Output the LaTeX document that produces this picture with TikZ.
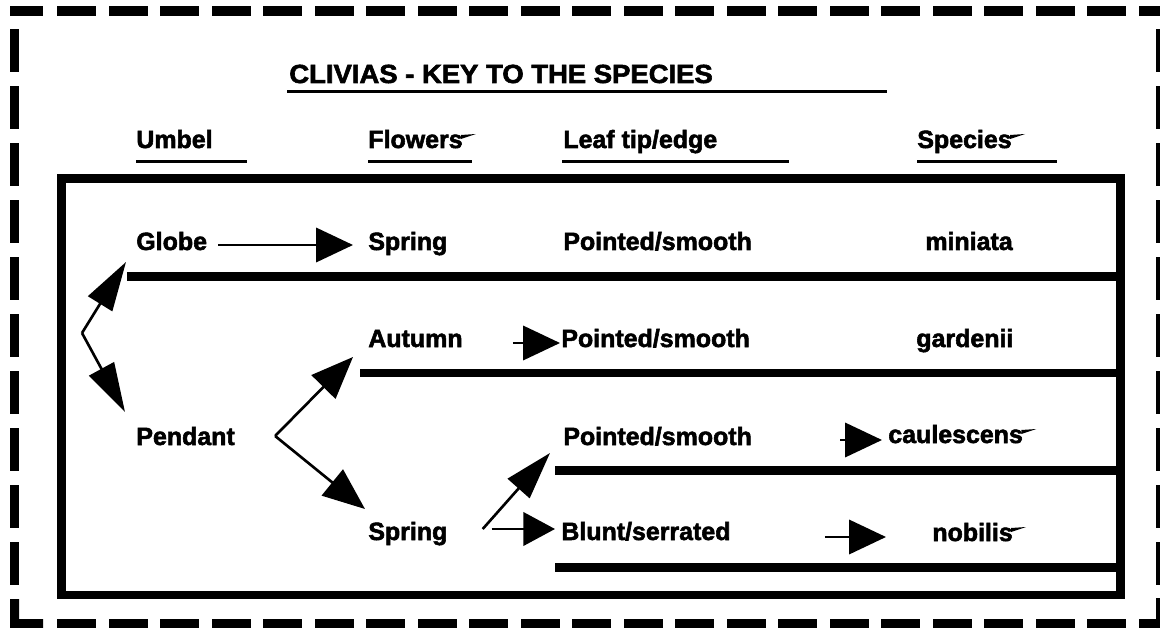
\documentclass[tikz,border=0pt]{standalone}
\usepackage{fontspec}
\setmainfont{Liberation Sans}[BoldFeatures={FakeBold=2.2}]
\usetikzlibrary{arrows.meta,calc}
\newcommand\stubmark[1]{\fill ($(#1.base east)+(-2,-13)$) -- ++(15,-1) -- ++(-15,5) -- cycle;}
\begin{document}
\begin{tikzpicture}[x=0.02cm,y=-0.02cm,
  every node/.style={font=\fontsize{14.2}{17}\selectfont\bfseries,inner sep=0pt,anchor=base west},
  arr/.style={-{Triangle[length=21pt,width=19.5pt]},line width=1.5pt},
  longarr/.style={-{Triangle[length=28pt,width=16pt]},line width=1.5pt},
  midarr/.style={-{Triangle[length=24pt,width=19pt]},line width=1.5pt},
  rowrule/.style={line width=5.1pt},
  headrule/.style={line width=2pt}]
\useasboundingbox (0,0) rectangle (1160,628);
% dashed frame
\foreach \k in {0,...,21} {
  \fill (57+51.5*\k,6) rectangle ++(39,10);
  \fill (57+51.5*\k,619) rectangle ++(39,9);}
\foreach \k in {0,...,9} {
  \fill (10,29+57*\k) rectangle ++(9,43);
  \fill (1156,29+57*\k) rectangle ++(9,43);}
\fill (10,6) rectangle (43,16);
\fill (10,599) -- (19,599) -- (19,619) -- (43,619) -- (43,628) -- (10,628) -- cycle;
\fill (1165,598) -- (1165,628) -- (1142,628) -- (1142,619) -- (1156,619) -- (1156,598) -- cycle;
\draw[rowrule] (61.5,178.5) rectangle (1120.5,595);
% title and column heads
\node (title) at (289,83) {\scalebox{1.1}[1.05]{CLIVIAS - KEY TO THE SPECIES}};
\draw[headrule] (287,91.5) -- (887,91.5);
\node (umbel) at (136,148) {Umbel};
\node (flowers) at (368,148) {Flowers};
\node (leaf) at (563,148) {Leaf tip/edge};
\node (species) at (917,148) {Species};
\draw[headrule] (136,161.5) -- (247,161.5);
\draw[headrule] (368,161.5) -- (472,161.5);
\draw[headrule] (562,161.5) -- (789,161.5);
\draw[headrule] (917,161.5) -- (1057,161.5);
\stubmark{flowers}
\stubmark{species}
% rows
\draw[rowrule] (127,276.5) -- (1120.5,276.5);
\draw[rowrule] (360,373) -- (1120.5,373);
\draw[rowrule] (555,470.5) -- (1120.5,470.5);
\draw[rowrule] (555,567.5) -- (1120.5,567.5);
\node (globe) at (136,250) {Globe};
\node (springA) at (368,250) {Spring};
\node (pointedA) at (563,250) {Pointed/smooth};
\node (miniata) at (925,250) {miniata};
\node (autumn) at (368,347) {Autumn};
\node (pointedB) at (561,347) {Pointed/smooth};
\node (gardenii) at (916,347) {gardenii};
\node (pendant) at (136,445) {Pendant};
\node (pointedC) at (563,445) {Pointed/smooth};
\node (caulescens) at (888,443) {caulescens};
\node (springB) at (368,540) {Spring};
\node (blunt) at (561,540) {Blunt/serrated};
\node (nobilis) at (932,541) {nobilis};
\stubmark{caulescens}
\stubmark{nobilis}
% key arrows
\coordinate (umbelfork) at (82,333);
\coordinate (pendantfork) at ($(pendant.base east)+(40,-9)$);
\coordinate (springfork) at ($(springB.base east)+(35,-11)$);
\draw[arr] ($(globe.base east)+(11,-5)$) -- ($(springA.base west)+(-15,-5)$);
\draw[longarr] (umbelfork) -- ($(globe.base west)+(-10,12)$);
\draw[longarr] (umbelfork) -- ($(pendant.base west)+(-11,-33)$);
\draw[midarr] (pendantfork) -- ($(autumn.base west)+(-15,10)$);
\draw[midarr] (pendantfork) -- ($(springB.base west)+(-3,-31)$);
\draw[arr] ($(autumn.base east)+(50,-4)$) -- ($(pointedB.base west)+(-1,-4)$);
\draw[-{Triangle[length=27pt,width=16.5pt]},line width=1.5pt] (springfork) -- ($(pointedC.base west)+(-13,8)$);
\draw[-{Triangle[length=18pt,width=19pt]},line width=1.5pt] ($(springB.base east)+(44,-11)$) -- ($(blunt.base west)+(-6,-11)$);
\draw[arr] ($(pointedC.base east)+(88,-5)$) -- ($(caulescens.base west)+(-6,-3)$);
\draw[arr] ($(blunt.base east)+(94,-3)$) -- ($(nobilis.base west)+(-46,-4)$);
\end{tikzpicture}
\end{document}
